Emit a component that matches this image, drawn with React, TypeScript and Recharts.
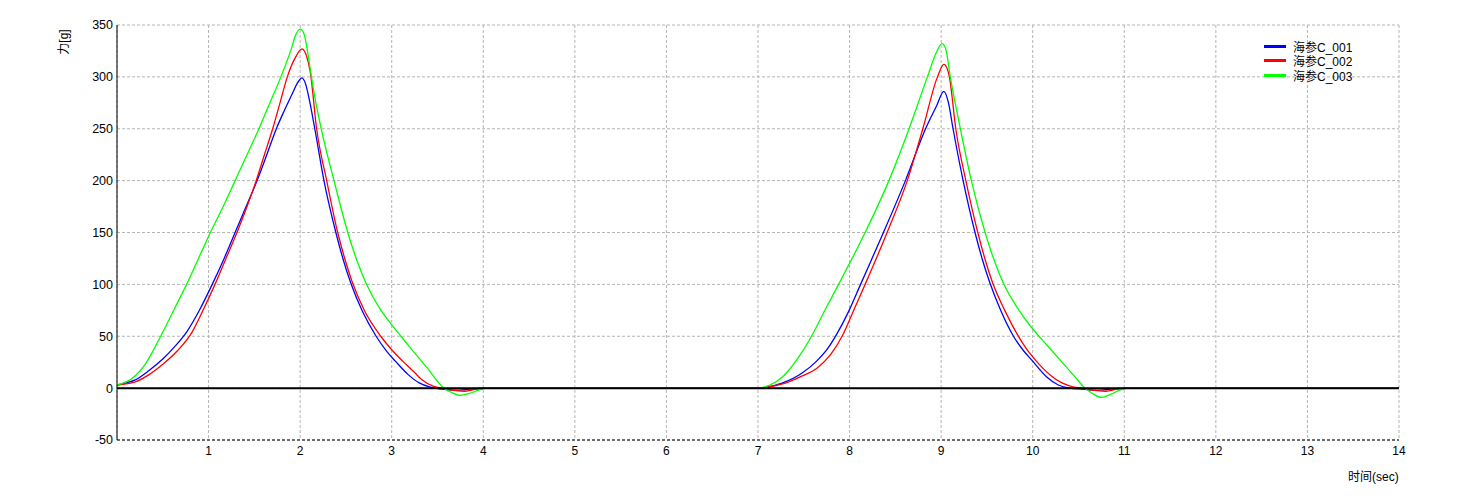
import React from 'react';
import { LineChart, Line, XAxis, YAxis, CartesianGrid, ReferenceLine } from 'recharts';

// time (sec) / force (g) pairs
const trace001: [number, number][] = [
  [0, 3], [0.1, 5], [0.2, 8], [0.35, 17], [0.5, 28], [0.63, 40], [0.76, 54], [0.9, 75],
  [1.04, 100], [1.17, 125], [1.29, 150], [1.41, 175], [1.53, 200], [1.64, 226], [1.74, 250],
  [1.83, 268], [1.91, 283], [1.97, 294], [2.02, 299], [2.06, 293], [2.1, 278], [2.16, 250],
  [2.26, 200], [2.39, 150], [2.47, 124], [2.55, 102], [2.68, 74], [2.83, 50], [2.95, 35],
  [3.04, 26], [3.18, 13], [3.3, 5], [3.42, 1], [3.55, -1], [3.7, -2], [3.85, -1], [4.0, 0],
  [7.0, 0], [7.1, 1], [7.27, 5], [7.49, 15], [7.64, 26], [7.76, 38], [7.86, 52], [7.99, 74],
  [8.12, 100], [8.37, 150], [8.61, 200], [8.83, 250], [8.95, 272], [9.03, 286], [9.08, 275],
  [9.13, 250], [9.24, 200], [9.37, 150], [9.45, 124], [9.53, 102], [9.65, 75], [9.79, 50],
  [9.9, 36], [9.99, 27], [10.15, 11], [10.28, 3], [10.4, 0], [10.55, -1], [10.7, -2],
  [10.85, -1], [11.0, 0], [14, 0],
];

const trace002: [number, number][] = [
  [0, 3], [0.1, 4], [0.2, 6], [0.35, 13], [0.5, 23], [0.66, 36], [0.82, 54], [0.95, 77],
  [1.07, 100], [1.19, 125], [1.31, 150], [1.42, 175], [1.52, 200], [1.61, 225], [1.7, 250],
  [1.78, 275], [1.86, 300], [1.95, 319], [2.02, 327], [2.07, 320], [2.11, 305], [2.18, 250],
  [2.29, 200], [2.41, 150], [2.49, 124], [2.57, 102], [2.7, 75], [2.88, 50], [3.0, 37],
  [3.12, 26], [3.25, 15], [3.33, 8], [3.45, 2], [3.55, 0], [3.65, -2], [3.8, -3], [3.92, -1],
  [4.02, 0],
  [7.0, 0], [7.1, 1], [7.27, 4], [7.49, 12], [7.64, 19], [7.79, 32], [7.93, 52], [8.05, 76],
  [8.17, 100], [8.41, 150], [8.63, 200], [8.8, 250], [8.96, 300], [9.03, 312], [9.07, 307],
  [9.09, 300], [9.16, 250], [9.27, 200], [9.4, 150], [9.48, 124], [9.56, 102], [9.7, 74],
  [9.83, 52], [9.93, 38], [10.03, 27], [10.2, 12], [10.32, 5], [10.45, 1], [10.53, 0],
  [10.65, -2], [10.8, -3], [10.92, -1], [11.02, 0], [14, 0],
];

const trace003: [number, number][] = [
  [0, 3], [0.1, 6], [0.2, 12], [0.3, 22], [0.4, 37], [0.5, 54], [0.63, 77], [0.76, 100],
  [0.89, 125], [1.02, 150], [1.16, 175], [1.29, 200], [1.42, 225], [1.55, 250], [1.67, 275],
  [1.79, 300], [1.9, 326], [1.95, 340], [2.0, 346], [2.04, 342], [2.08, 325], [2.12, 302],
  [2.17, 276], [2.23, 250], [2.37, 200], [2.52, 150], [2.62, 123], [2.72, 101], [2.86, 78],
  [3.0, 61], [3.1, 50], [3.25, 34], [3.4, 18], [3.57, 0], [3.65, -4], [3.75, -7], [3.85, -5],
  [3.95, -2], [4.05, 0],
  [7.0, 0], [7.13, 3], [7.27, 11], [7.46, 32], [7.59, 51], [7.73, 75], [7.88, 100], [8.17, 150],
  [8.43, 200], [8.65, 250], [8.85, 300], [8.95, 324], [9.01, 332], [9.05, 327], [9.1, 300],
  [9.21, 250], [9.33, 200], [9.48, 150], [9.58, 123], [9.68, 101], [9.82, 79], [10.0, 57],
  [10.1, 47], [10.3, 27], [10.45, 12], [10.57, 0], [10.65, -5], [10.75, -9], [10.85, -6],
  [10.95, -2], [11.05, 0], [14, 0],
];

const seriesNames = ['海参C_001', '海参C_002', '海参C_003'];
const timeTicks = [1, 2, 3, 4, 5, 6, 7, 8, 9, 10, 11, 12, 13, 14];
const forceTicks = [-50, 0, 50, 100, 150, 200, 250, 300, 350];

const colors = ['#0000ff', '#ff0000', '#00ff00'];
const traces = [trace001, trace002, trace003];
const font = '"Liberation Sans", Arial, "Noto Sans CJK SC", sans-serif';

const toRows = (pairs: [number, number][]) => pairs.map(([t, v]) => ({ t, v }));

const LegendBox = () => (
  <div style={{ position: 'absolute', left: 1256, top: 31, fontSize: 12, color: '#000' }}>
    {seriesNames.map((name, i) => (
      <div key={name} style={{ display: 'flex', alignItems: 'center', height: 14.5 }}>
        <span style={{ display: 'inline-block', width: 22, height: 3, background: colors[i], marginRight: 7 }} />
        <span>{name}</span>
      </div>
    ))}
  </div>
);

export default function App() {
  return (
    <div style={{ position: 'relative', width: 1443, height: 486, fontFamily: font }}>
      <LineChart width={1443} height={486} margin={{ top: 17, right: 52, bottom: 24, left: 0 }}>
        <CartesianGrid stroke="#b4b4b4" strokeDasharray="3 2" />
        <XAxis
          dataKey="t"
          type="number"
          domain={[0, 14]}
          ticks={timeTicks}
          allowDataOverflow
          height={30}
          tickLine={false}
          tickSize={4}
          tickMargin={2}
          axisLine={{ stroke: '#000', strokeDasharray: '3 2' }}
          tick={{ fontSize: 12, fill: '#000' }}
        />
        <YAxis
          type="number"
          domain={[-50, 350]}
          ticks={forceTicks}
          width={109}
          tickLine={false}
          tickSize={2}
          tickMargin={2}
          axisLine={{ stroke: '#000' }}
          tick={{ fontSize: 12.5, fill: '#000' }}
        />
        {traces.map((tr, i) => (
          <Line
            key={seriesNames[i]}
            data={toRows(tr)}
            dataKey="v"
            name={seriesNames[i]}
            type="monotone"
            stroke={colors[i]}
            strokeWidth={1.3}
            dot={false}
            activeDot={false}
            isAnimationActive={false}
          />
        ))}
        <ReferenceLine y={0} stroke="#000" strokeWidth={2} />
      </LineChart>
      <LegendBox />
      <div
        style={{
          position: 'absolute',
          left: 54,
          top: 34,
          fontSize: 12,
          whiteSpace: 'nowrap',
          transform: 'translate(-50%, -50%) rotate(-90deg)',
        }}
      >
        力[g]
      </div>
      <div style={{ position: 'absolute', left: 1340, top: 459, fontSize: 12, whiteSpace: 'nowrap' }}>
        时间(sec)
      </div>
    </div>
  );
}
